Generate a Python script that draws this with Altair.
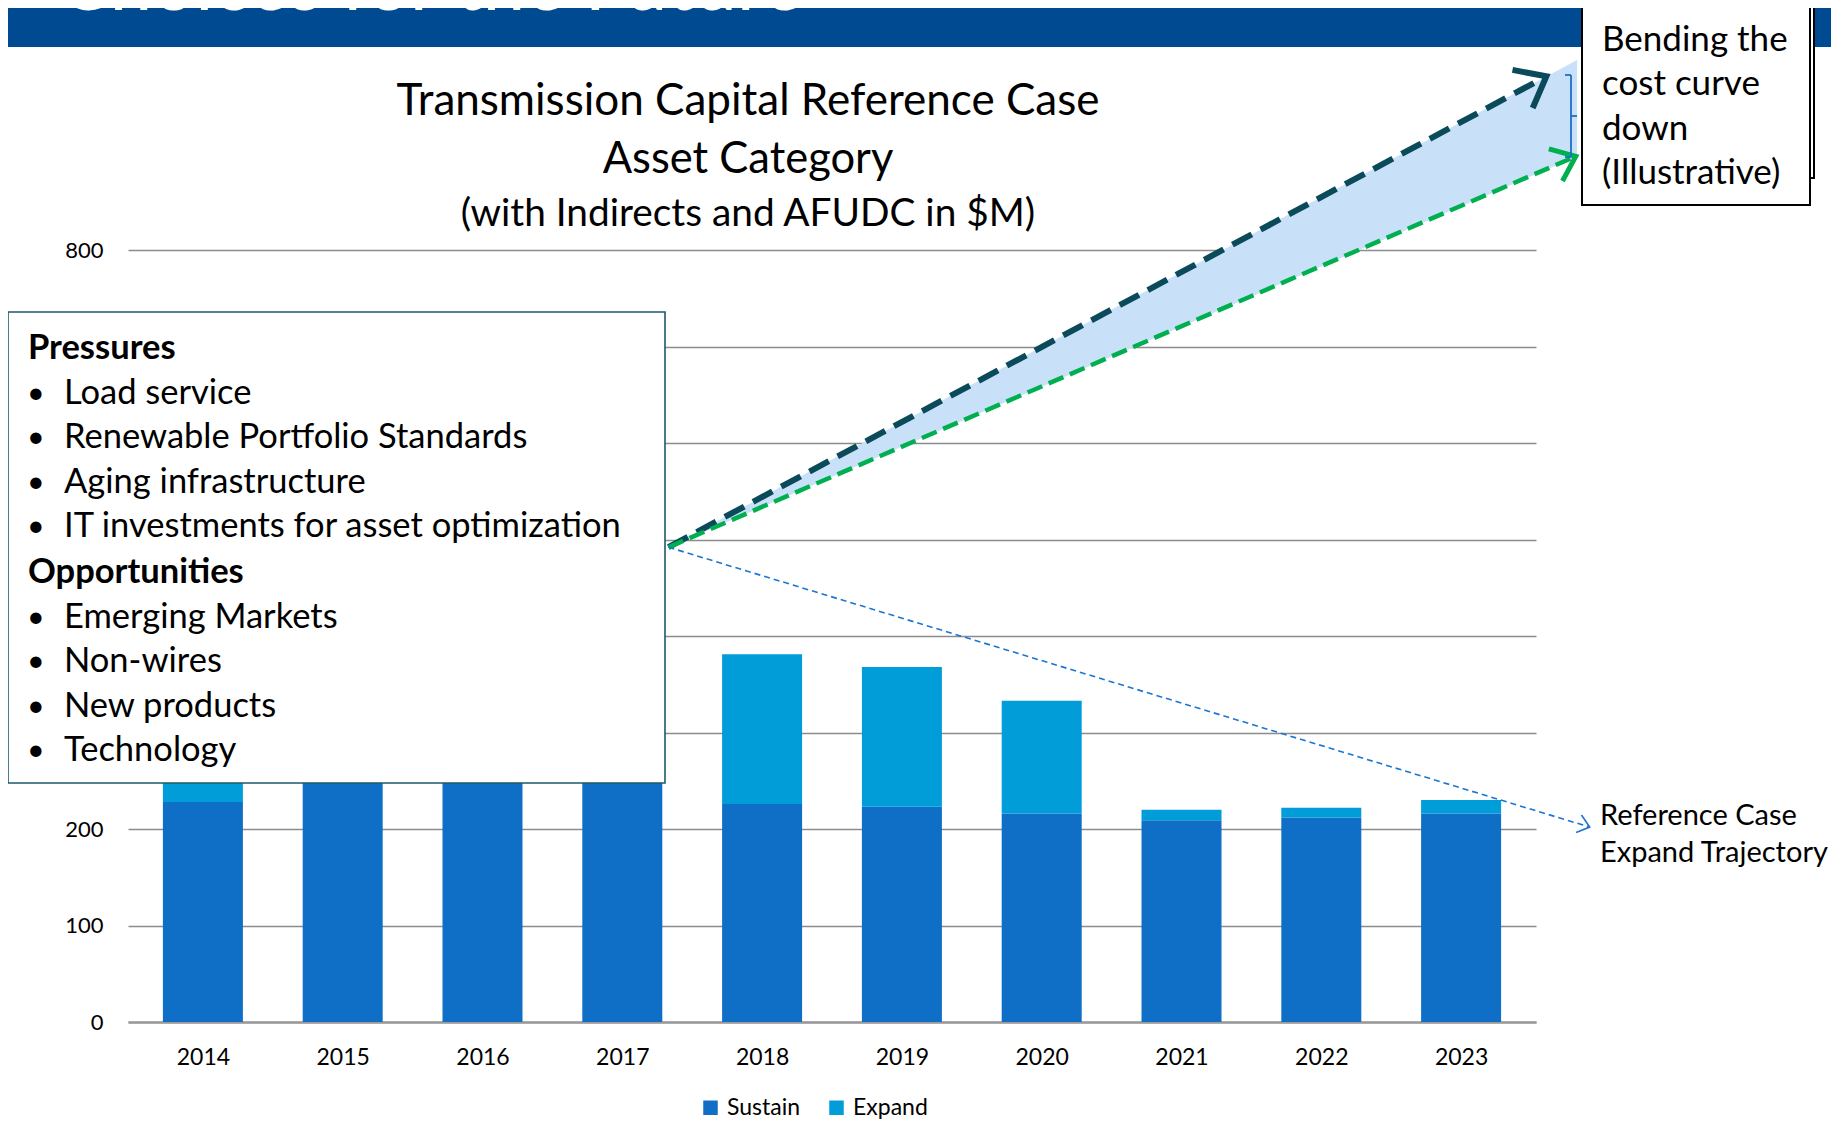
import altair as alt
import pandas as pd

# ---------------- data ----------------
years = [2014, 2015, 2016, 2017, 2018, 2019, 2020, 2021, 2022, 2023]
sustain = [228, 255, 258, 260, 226, 223, 216, 209, 212, 216]
expand = [60, 140, 170, 200, 155, 145, 117, 11, 10, 14]
categories = ["Sustain", "Expand"]
y_ticks = [0, 100, 200, 300, 400, 500, 600, 700, 800]

# illustrative trajectories (year position, $M)
traj_start = (2017.33, 492)
high_end = (2023.61, 980)      # dark dashed arrow
low_end = (2023.82, 897)       # green dashed arrow
shade_end_x = 2023.83
shade_top, shade_bottom = 997, 897
ref_end = (2023.92, 202)       # reference case expand trajectory

title_lines = ["Transmission Capital Reference Case", "Asset Category",
               "(with Indirects and AFUDC in $M)"]
pressures = ["Load service", "Renewable Portfolio Standards", "Aging infrastructure",
             "IT investments for asset optimization"]
opportunities = ["Emerging Markets", "Non-wires", "New products", "Technology"]
bend_lines = ["Bending the", "cost curve", "down", "(Illustrative)"]
ref_lines = ["Reference Case", "Expand Trajectory"]
banner_text = "Choices for the Future"

FONT = "Lato"
W, H = 1408, 772

rows = []
for i, y in enumerate(years):
    rows.append({"year": y, "cat": "Sustain", "value": sustain[i], "ord": 0})
    rows.append({"year": y, "cat": "Expand", "value": expand[i], "ord": 1})
df = pd.DataFrame(rows)

xs = alt.Scale(domain=[2013.5, 2023.5], nice=False, zero=False)
ys = alt.Scale(domain=[0, 800], nice=False)

x_axis = alt.Axis(values=years, format="d", title=None, grid=False, ticks=False,
                  labelFontSize=23, labelFont=FONT, labelColor="#000",
                  labelPadding=24, domainColor="#9a9a9a", domainWidth=2.5,
                  labelFlush=False)
y_axis = alt.Axis(values=y_ticks, title=None, ticks=False, domain=False,
                  gridColor="#8c8c8c", gridWidth=1.5, labelFontSize=22,
                  labelFont=FONT, labelColor="#000", labelPadding=25,
                  labelExpr="(datum.value >= 300 && datum.value <= 700) ? '' : datum.label")

bars = alt.Chart(df).mark_bar(size=80).encode(
    x=alt.X("year:Q", scale=xs, axis=x_axis),
    y=alt.Y("value:Q", stack="zero", scale=ys, axis=y_axis),
    color=alt.Color("cat:N", scale=alt.Scale(domain=categories, range=["#0F6FC6", "#009DD9"]),
                    legend=alt.Legend(title=None, orient="none", direction="horizontal",
                                      legendX=571, legendY=846, symbolType="square",
                                      symbolSize=210, labelFontSize=23, labelFont=FONT,
                                      labelColor="#000", columnPadding=24, symbolOffset=0,
                                      labelOffset=5)),
    order=alt.Order("ord:Q"),
)

shade_df = pd.DataFrame({"x": [traj_start[0], shade_end_x],
                         "top": [traj_start[1], shade_top],
                         "bot": [traj_start[1], shade_bottom]})
shade = alt.Chart(shade_df).mark_area(color="#C9E1F8", opacity=1, clip=False).encode(
    x=alt.X("x:Q", scale=xs, axis=x_axis), y=alt.Y("top:Q", scale=ys, axis=y_axis), y2="bot:Q")


def line_layer(end, color, width, dash):
    d = pd.DataFrame({"x": [traj_start[0], end[0]], "y": [traj_start[1], end[1]]})
    return alt.Chart(d).mark_line(color=color, strokeWidth=width, strokeDash=dash,
                                  clip=False).encode(
        x=alt.X("x:Q", scale=xs, axis=x_axis), y=alt.Y("y:Q", scale=ys, axis=y_axis))


def arrow_head(end, color, width, size, angle):
    d = pd.DataFrame({"x": [end[0]], "y": [end[1]]})
    return alt.Chart(d).mark_point(shape="M-1,-0.8L0,0L-1,0.8", filled=False, color=color,
                                   strokeWidth=width, size=size, angle=angle, opacity=1,
                                   strokeJoin="miter", clip=False).encode(
        x=alt.X("x:Q", scale=xs, axis=x_axis), y=alt.Y("y:Q", scale=ys, axis=y_axis))


high_line = line_layer(high_end, "#0B4A5B", 6, [22, 10])
low_line = line_layer(low_end, "#00B050", 4.5, [16, 7])
ref_line = line_layer(ref_end, "#1C75D0", 1.6, [6, 4])
high_head = arrow_head(high_end, "#0B4A5B", 6, 2900, 332)
low_head = arrow_head(low_end, "#00B050", 5, 1900, 337)
ref_head = arrow_head(ref_end, "#1C75D0", 1.6, 520, 17)

one = alt.Data(values=[{}])


def rect(x, y, x2, y2, fill, stroke=None, sw=0):
    kw = dict(fill=fill)
    if stroke:
        kw.update(stroke=stroke, strokeWidth=sw)
    return alt.Chart(one).mark_rect(**kw).encode(
        x=alt.value(x), x2=alt.value(x2), y=alt.value(y), y2=alt.value(y2))


def rule(x, y, x2, y2, color, sw):
    return alt.Chart(one).mark_rule(color=color, strokeWidth=sw).encode(
        x=alt.value(x), x2=alt.value(x2), y=alt.value(y), y2=alt.value(y2))


def txt(s, x, y, size, weight="normal", align="left", color="#000", baseline="middle"):
    return alt.Chart(one).mark_text(text=s, font=FONT, fontSize=size, fontWeight=weight,
                                    align=align, baseline=baseline, color=color).encode(
        x=alt.value(x), y=alt.value(y))


layers = [bars, shade, high_line, low_line, ref_line, high_head, low_head, ref_head]

# banner
layers.append(rect(-130, -260, 1720, -203, "#004A91"))
layers.append(txt(banner_text, -69, -240, 76, color="#ffffff", baseline="alphabetic"))

# chart title
tx = 620
layers.append(txt(title_lines[0], tx, -148, 44, align="center"))
layers.append(txt(title_lines[1], tx, -90, 43.5, align="center"))
layers.append(txt(title_lines[2], tx, -36, 38.8, align="center"))

# pressures / opportunities box
layers.append(rect(-120, 62, 537, 533, "#ffffff", "#1E5A6A", 1.6))
line_y = [99, 144, 188, 233, 277, 323, 368, 412, 457, 501]
FS = 34.5
layers.append(txt("Pressures", -100, line_y[0], FS, weight="bold"))
for i, s in enumerate(pressures):
    layers.append(txt("•", -101, line_y[1 + i], FS - 4))
    layers.append(txt(s, -64, line_y[1 + i], FS))
layers.append(txt("Opportunities", -100, line_y[5], FS, weight="bold"))
for i, s in enumerate(opportunities):
    layers.append(txt("•", -101, line_y[6 + i], FS - 4))
    layers.append(txt(s, -64, line_y[6 + i], FS))

# bracket
layers.append(rule(1443, -175, 1443, -93, "#1F6FC8", 1.8))
layers.append(rule(1437, -175, 1443, -175, "#1F6FC8", 1.8))
layers.append(rule(1437, -93, 1443, -93, "#1F6FC8", 1.8))
layers.append(rule(1443, -134, 1449, -134, "#1F6FC8", 1.8))

# bending box
layers.append(rect(1459, -252, 1686, -72, "#ffffff", "#000000", 2))
layers.append(rect(1454, -245, 1682, -45, "#ffffff", "#000000", 2))
for i, s in enumerate(bend_lines):
    layers.append(txt(s, 1474, [-210, -166, -121, -77][i], 35))

# reference case label
layers.append(txt(ref_lines[0], 1472, 566, 29))
layers.append(txt(ref_lines[1], 1472, 603, 29))

chart = alt.layer(*layers).properties(
    width=W, height=H,
    autosize=alt.AutoSizeParams(type="none"),
    padding={"left": 120, "top": 242, "right": 295, "bottom": 100},
).configure(background="#ffffff").configure_view(stroke="transparent", strokeWidth=0)

chart.save("out.html", embed_options={"renderer": "svg", "actions": False})
